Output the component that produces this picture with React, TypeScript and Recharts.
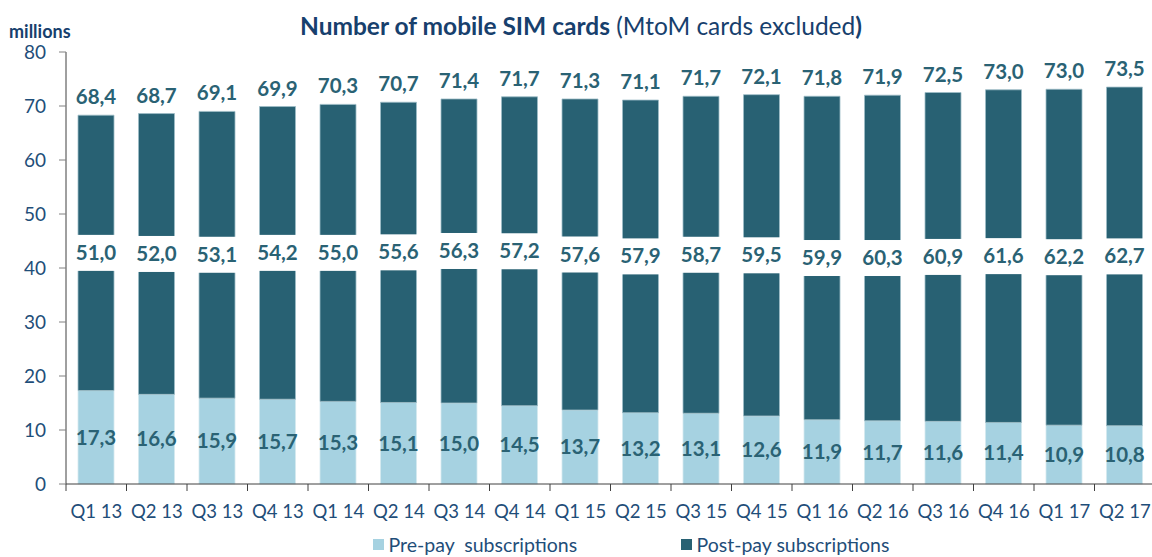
import React from 'react';
import { BarChart, Bar, XAxis, YAxis, LabelList, Legend } from 'recharts';

const quarters = ['Q1 13','Q2 13','Q3 13','Q4 13','Q1 14','Q2 14','Q3 14','Q4 14','Q1 15','Q2 15','Q3 15','Q4 15','Q1 16','Q2 16','Q3 16','Q4 16','Q1 17','Q2 17'];
const prePay = [17.3,16.6,15.9,15.7,15.3,15.1,15.0,14.5,13.7,13.2,13.1,12.6,11.9,11.7,11.6,11.4,10.9,10.8];
const postPay = [51.0,52.0,53.1,54.2,55.0,55.6,56.3,57.2,57.6,57.9,58.7,59.5,59.9,60.3,60.9,61.6,62.2,62.7];
const totals = [68.4,68.7,69.1,69.9,70.3,70.7,71.4,71.7,71.3,71.1,71.7,72.1,71.8,71.9,72.5,73.0,73.0,73.5];
const yTicks = [0,10,20,30,40,50,60,70,80];

const data = quarters.map((q, i) => ({ q, pre: prePay[i], post: postPay[i], total: totals[i] }));

const W = 1152;
const H = 557;
const FONT = 'Lato, "Open Sans", sans-serif';
const DARK = '#286173';
const LIGHT = '#A6D2E1';
const LABEL = '#2A6274';
const AXIS_TXT = '#1F4E79';
const TITLE = '#17406D';

const MARGIN = { top: 52, right: -3, left: 6, bottom: 33 };
const Y_W = 60;
const X_H = 40;
const PLOT_LEFT = MARGIN.left + Y_W;
const PLOT_RIGHT = W - MARGIN.right;
const BAND = (PLOT_RIGHT - PLOT_LEFT) / quarters.length;
const LEGEND_ORDER = ['pre', 'post'];
const LEGEND_LEFT = [373, 681];

const fmt = (v: any) => Number(v).toFixed(1).replace('.', ',');

const XTick = (props: any) => {
  const { x, y, payload, index } = props;
  const last = index === quarters.length - 1;
  return (
    <g>
      <line x1={x - BAND / 2} x2={x - BAND / 2} y1={y} y2={y + 7} stroke="#404040" strokeWidth={1} />
      {last && <line x1={x + BAND / 2} x2={x + BAND / 2} y1={y} y2={y + 7} stroke="#404040" strokeWidth={1} />}
      <text x={x} y={y + 34} textAnchor="middle" fill={AXIS_TXT} fontSize={18.5} fontFamily={FONT}>
        {payload.value}
      </text>
    </g>
  );
};

const PostLabel = (props: any) => {
  const vb = props.viewBox || props;
  const { x, y, width, height } = vb;
  const cy = y + height / 2;
  return (
    <g>
      <rect x={x - 3} y={cy - 18} width={width + 6} height={36} fill="#ffffff" />
      <text x={x + width / 2} y={cy + 7} textAnchor="middle" fill={LABEL} fontSize={20.5} fontWeight={700} fontFamily={FONT}>
        {fmt(props.value)}
      </text>
    </g>
  );
};

const LegendContent = (props: any) => {
  const payload = [...(props.payload || [])].sort(
    (a: any, b: any) => LEGEND_ORDER.indexOf(a.dataKey) - LEGEND_ORDER.indexOf(b.dataKey)
  );
  return (
    <div style={{ position: 'relative', height: 24, fontFamily: FONT, fontSize: 19.5, color: AXIS_TXT }}>
      {payload.map((p: any, i: number) => (
        <div key={i} style={{ position: 'absolute', left: LEGEND_LEFT[i], top: 0, display: 'flex', alignItems: 'center', whiteSpace: 'pre', lineHeight: 1.2 }}>
          <span style={{ display: 'inline-block', width: 11, height: 11, background: p.color, marginRight: 4.5 }} />
          <span>{p.value}</span>
        </div>
      ))}
    </div>
  );
};

export default function App() {
  return (
    <div style={{ position: 'absolute', left: 0, top: 0, width: W, height: H, overflow: 'hidden', background: '#fff' }}>
      <BarChart width={W} height={H} data={data} margin={MARGIN} barSize={36}>
        <XAxis
          dataKey="q"
          height={X_H}
          interval={0}
          tickSize={0}
          tickMargin={0}
          tickLine={false}
          axisLine={{ stroke: '#404040', strokeWidth: 1 }}
          tick={<XTick />}
        />
        <YAxis
          width={Y_W}
          domain={[0, 80]}
          ticks={yTicks}
          interval={0}
          tickSize={7}
          tickMargin={13}
          axisLine={{ stroke: '#404040', strokeWidth: 1 }}
          tickLine={{ stroke: '#808080', strokeWidth: 1 }}
          tick={{ fill: AXIS_TXT, fontSize: 19, fontFamily: FONT }}
        />
        <Legend
          layout="horizontal"
          verticalAlign="middle"
          align="center"
          wrapperStyle={{ top: 533, left: 0, width: W }}
          content={<LegendContent />}
        />
        <Bar dataKey="pre" name="Pre-pay  subscriptions" stackId="a" fill={LIGHT} stroke="#d4e8ef" strokeWidth={0.8} isAnimationActive={false}>
          <LabelList dataKey="pre" position="center" formatter={fmt} fill={LABEL} fontSize={20.5} fontWeight={700} fontFamily={FONT} />
        </Bar>
        <Bar dataKey="post" name="Post-pay subscriptions" stackId="a" fill={DARK} stroke="#9dbcc7" strokeWidth={0.8} isAnimationActive={false}>
          <LabelList dataKey="post" content={<PostLabel />} />
          <LabelList dataKey="total" position="top" offset={11} formatter={fmt} fill={LABEL} fontSize={20.5} fontWeight={700} fontFamily={FONT} />
        </Bar>
      </BarChart>
      <div style={{ position: 'absolute', left: 0, width: W - 10, top: 11, textAlign: 'center', fontFamily: FONT, fontSize: 24.5, lineHeight: 1.2, color: TITLE, whiteSpace: 'pre', paddingLeft: 10 }}>
        <span style={{ fontWeight: 700 }}>Number of mobile SIM cards</span>
        <span> (MtoM cards excluded</span>
        <span style={{ fontWeight: 700 }}>)</span>
      </div>
      <div style={{ position: 'absolute', left: 9, top: 21, fontFamily: FONT, fontSize: 18, lineHeight: 1.2, fontWeight: 700, color: TITLE }}>
        millions
      </div>
    </div>
  );
}
